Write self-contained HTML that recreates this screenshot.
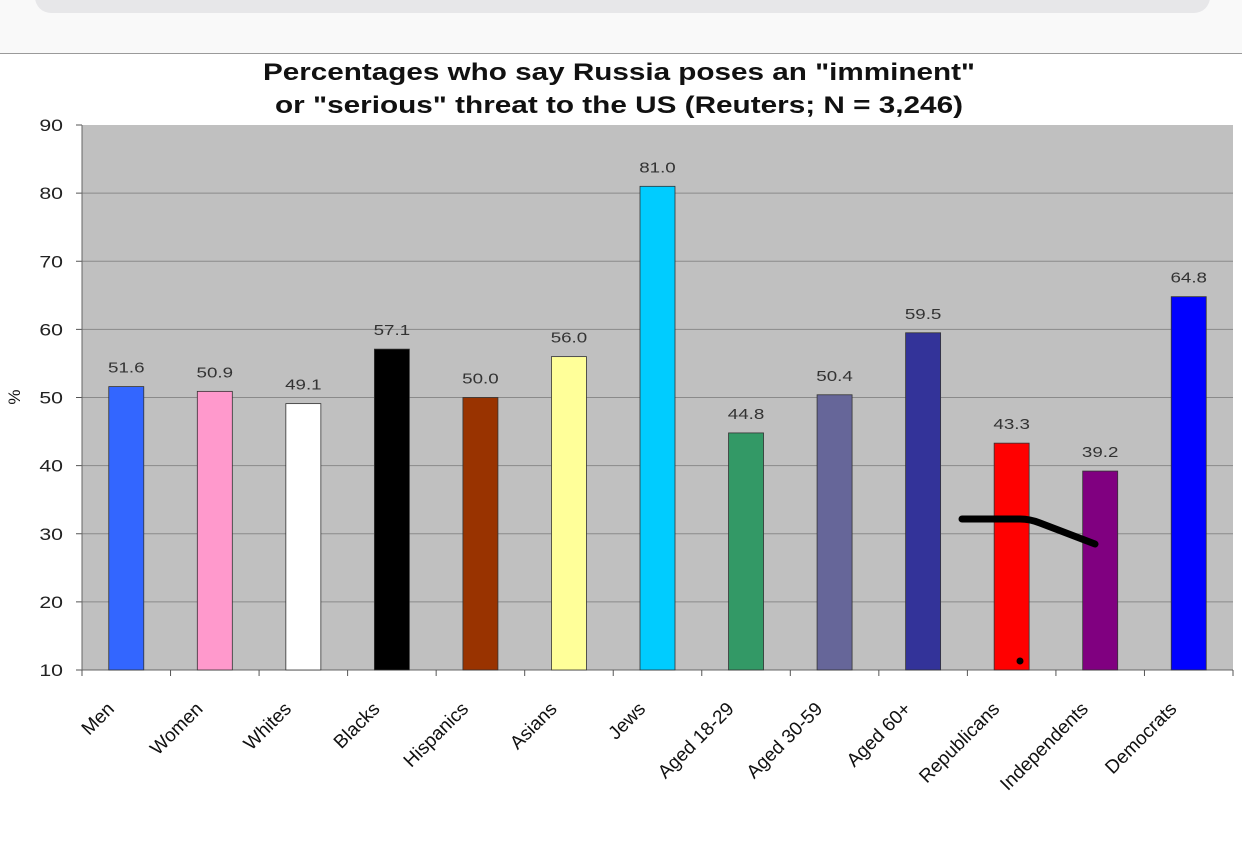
<!DOCTYPE html>
<html><head><meta charset="utf-8"><style>
body{margin:0;background:#fff;width:1242px;height:841px;overflow:hidden;font-family:"Liberation Sans",Arial,sans-serif}
</style></head><body>
<svg id="c" width="1242" height="841" xmlns="http://www.w3.org/2000/svg">
<rect x="0" y="0" width="1242" height="53" fill="#f9f9f9"/>
<rect x="35" y="-20" width="1175" height="33" rx="16" fill="#e7e7e9"/>
<line x1="0" y1="53.5" x2="1242" y2="53.5" stroke="#9a9a9a" stroke-width="1"/>
<text x="619" y="80" text-anchor="middle" font-size="24" font-weight="bold" fill="#111" textLength="712" lengthAdjust="spacingAndGlyphs">Percentages who say Russia poses an "imminent"</text>
<text x="619" y="113" text-anchor="middle" font-size="24" font-weight="bold" fill="#111" textLength="688" lengthAdjust="spacingAndGlyphs">or "serious" threat to the US (Reuters; N = 3,246)</text>
<rect x="82" y="125" width="1151" height="545" fill="#c0c0c0"/>
<g id="g"></g>
<text x="20" y="397" text-anchor="middle" font-size="17" fill="#111" transform="rotate(-90 20 397)">%</text>
<path d="M962 519 L1020 519 Q1030 519 1040 523 L1095 544" stroke="#000" stroke-width="7" fill="none" stroke-linecap="round"/>
<circle cx="1020" cy="661" r="3.5" fill="#000"/>
</svg>
<script>
const categories=["Men","Women","Whites","Blacks","Hispanics","Asians","Jews","Aged 18-29","Aged 30-59","Aged 60+","Republicans","Independents","Democrats"];
const values=[51.6,50.9,49.1,57.1,50.0,56.0,81.0,44.8,50.4,59.5,43.3,39.2,64.8];
const valueLabels=["51.6","50.9","49.1","57.1","50.0","56.0","81.0","44.8","50.4","59.5","43.3","39.2","64.8"];
const colors=["#3366ff","#ff99cc","#ffffff","#000000","#993300","#ffff99","#00ccff","#339966","#666699","#333399","#ff0000","#800080","#0000ff"];
const yTicks=[10,20,30,40,50,60,70,80,90];
const NS="http://www.w3.org/2000/svg";
const g=document.getElementById('g');
const L=82,R=1233,T=125,B=670,ymin=10,ymax=90;
const y=v=>B-(v-ymin)/(ymax-ymin)*(B-T);
const bw=(R-L)/categories.length;
const x=i=>L+bw*(i+0.5);
function mk(t,a){const e=document.createElementNS(NS,t);for(const k in a)e.setAttribute(k,a[k]);g.appendChild(e);return e;}
function stretch(t,f){const w=t.getComputedTextLength();t.setAttribute('textLength',w*f);t.setAttribute('lengthAdjust','spacingAndGlyphs');}
yTicks.forEach(v=>{
 if(v>ymin&&v<ymax){const l=mk('line',{x1:L,x2:R,y1:y(v),y2:y(v),stroke:'#8a8a8a','stroke-width':1});
 
 }
 const tk=mk('line',{x1:L-6,x2:L,y1:y(v),y2:y(v),stroke:'#555'});
 
 
 const t=mk('text',{x:L-19,y:y(v)+6,'text-anchor':'end','font-size':17,fill:'#222'});t.textContent=v;
 stretch(t,1.25);
 
 
});
mk('line',{x1:L,x2:L,y1:T,y2:B,stroke:'#666'});
mk('line',{x1:L,x2:R,y1:B,y2:B,stroke:'#666'});
for(let i=0;i<=categories.length;i++){mk('line',{x1:L+bw*i,x2:L+bw*i,y1:B,y2:B+6,stroke:'#555'});}
categories.forEach((c,i)=>{
 const bx=x(i)-17.5,by=y(values[i]);
 const r=mk('rect',{x:bx,y:by,width:35,height:B-by,fill:colors[i],stroke:'#333','stroke-width':0.8});
 
 
 const t=mk('text',{x:x(i),y:by-14,'text-anchor':'middle','font-size':15,fill:'#333'});t.textContent=valueLabels[i];
 stretch(t,1.25);
 
 
 const cx=x(i)-11,cy=B+40;
 const lb=mk('text',{x:cx,y:cy,'text-anchor':'end','font-size':19,fill:'#111',transform:`rotate(-45 ${cx} ${cy})`});lb.textContent=c;
 
 
});
</script>
</body></html>
